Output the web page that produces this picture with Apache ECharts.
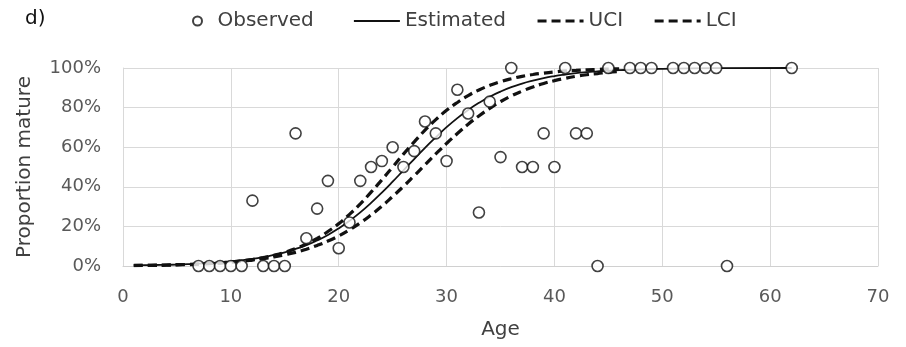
<!DOCTYPE html>
<html>
<head>
<meta charset="utf-8">
<script src="https://cdn.jsdelivr.net/npm/echarts@6/dist/echarts.min.js"></script>
<style>
html,body{margin:0;padding:0;background:#fff;}
#chart{width:906px;height:347px;}
</style>
</head>
<body>
<div id="chart"></div>
<script>
// Observed points (age, % mature)
var obsAge = [7,8,9,10,11,12,13,14,15,16,17,18,19,20,21,22,23,24,25,26,27,28,29,30,31,32,33,34,35,36,37,38,39,40,41,42,43,44,45,47,48,49,51,52,53,54,55,56,62];
var obsPct = [0,0,0,0,0,33,0,0,0,67,14,29,43,9,22,43,50,53,60,50,58,73,67,53,89,77,27,83,55,100,50,50,67,50,100,67,67,0,100,100,100,100,100,100,100,100,100,0,100];

// Estimated ogive (solid), ages 1..50 then 55, 62
var estAge = [1,2,3,4,5,6,7,8,9,10,11,12,13,14,15,16,17,18,19,20,21,22,23,24,25,26,27,28,29,30,31,32,33,34,35,36,37,38,39,40,41,42,43,44,45,46,47,48,49,50,55,62];
var estPct = [0.3,0.4,0.5,0.6,0.7,0.9,1.2,1.5,1.8,2.3,2.9,3.6,4.5,5.6,6.9,8.6,10.5,12.9,15.7,19.0,22.8,27.1,31.9,37.1,42.6,48.3,54.0,59.7,65.0,70.1,74.7,78.8,82.4,85.5,88.1,90.3,92.1,93.6,94.9,95.9,96.7,97.4,97.9,98.3,98.7,98.9,99.1,99.3,99.5,99.6,99.9,100];

// Confidence limits (dashed), ages 1..46
var ciAge = [1,2,3,4,5,6,7,8,9,10,11,12,13,14,15,16,17,18,19,20,21,22,23,24,25,26,27,28,29,30,31,32,33,34,35,36,37,38,39,40,41,42,43,44,45,46];
var uciPct = [0.2,0.3,0.3,0.4,0.6,0.7,0.9,1.2,1.5,2.0,2.6,3.3,4.2,5.4,6.9,8.8,11.1,13.9,17.4,21.4,26.1,31.4,37.3,43.5,50.0,56.5,62.7,68.6,73.9,78.6,82.6,86.1,88.9,91.2,93.1,94.6,95.8,96.7,97.4,98.0,98.5,98.8,99.1,99.3,99.5,99.6];
var lciPct = [0.3,0.3,0.4,0.5,0.7,0.8,1.0,1.3,1.6,2.0,2.4,3.0,3.7,4.6,5.7,6.9,8.5,10.4,12.6,15.2,18.3,21.8,25.8,30.2,35.1,40.2,45.6,51.1,56.6,61.9,66.9,71.6,75.8,79.6,83.0,85.9,88.3,90.4,92.2,93.6,94.8,95.8,96.6,97.2,97.8,98.2];

var xTicks = {min:0, max:70, interval:10};
var yTicks = {min:0, max:100, interval:20};

function zip(a, b){ return a.map(function(v,i){ return [v, b[i]]; }); }

var FONT = 'DejaVu Sans';
var DASH = [9,5];
var chart = echarts.init(document.getElementById('chart'), null, {renderer:'canvas'});
chart.setOption({
  animation:false,
  backgroundColor:'#ffffff',
  textStyle:{fontFamily:FONT},
  title:{text:'d)', left:20, top:4, textStyle:{fontFamily:FONT, fontSize:20, fontWeight:'normal', color:'#111'}},
  legend:[{
    data:['Observed'], left:187, top:6, itemWidth:30, itemHeight:9, itemGap:30,
    textStyle:{fontFamily:FONT, fontSize:20, color:'#404040'}
  },{
    data:[
      {name:'Estimated', icon:'line', itemStyle:{color:'#111', borderColor:'#111', borderWidth:1.8, borderType:'solid'}},
      {name:'UCI', icon:'line', itemStyle:{color:'#111', borderColor:'#111', borderWidth:3.2, borderType:DASH}},
      {name:'LCI', icon:'line', itemStyle:{color:'#111', borderColor:'#111', borderWidth:3.2, borderType:DASH}}
    ],
    left:348, top:6, itemWidth:46, itemHeight:12, itemGap:30,
    textStyle:{fontFamily:FONT, fontSize:20, color:'#404040'}
  }],
  grid:{left:123, right:28, top:68, bottom:81, containLabel:false},
  xAxis:{
    type:'value', min:xTicks.min, max:xTicks.max, interval:xTicks.interval,
    name:'Age', nameLocation:'middle', nameGap:54,
    nameTextStyle:{fontFamily:FONT, fontSize:20, color:'#404040'},
    axisLine:{show:true, lineStyle:{color:'#d0d0d0', width:1}},
    axisTick:{show:false},
    axisLabel:{fontFamily:FONT, fontSize:18, color:'#595959', margin:22},
    splitLine:{show:true, lineStyle:{color:'#d9d9d9', width:1}}
  },
  yAxis:{
    type:'value', min:yTicks.min, max:yTicks.max, interval:yTicks.interval,
    name:'Proportion mature', nameLocation:'middle', nameGap:88,
    nameTextStyle:{fontFamily:FONT, fontSize:20, color:'#404040'},
    axisLine:{show:true, lineStyle:{color:'#d9d9d9', width:1}},
    axisTick:{show:false},
    axisLabel:{fontFamily:FONT, fontSize:18, color:'#595959', margin:22, formatter:'{value}%'},
    splitLine:{show:true, lineStyle:{color:'#d9d9d9', width:1}}
  },
  series:[
    {
      name:'Observed', type:'scatter', data:zip(obsAge, obsPct), z:10,
      symbol:'circle', symbolSize:11,
      itemStyle:{color:'#ffffff', borderColor:'#111', borderWidth:1.6}
    },
    {
      name:'Estimated', type:'line', data:zip(estAge, estPct), smooth:true, symbol:'none', z:3,
      lineStyle:{color:'#111', width:1.8, type:'solid'}, itemStyle:{color:'#111'}
    },
    {
      name:'UCI', type:'line', data:zip(ciAge, uciPct), smooth:true, symbol:'none', z:4,
      lineStyle:{color:'#111', width:3.2, type:DASH}, itemStyle:{color:'#111'}
    },
    {
      name:'LCI', type:'line', data:zip(ciAge, lciPct), smooth:true, symbol:'none', z:4,
      lineStyle:{color:'#111', width:3.2, type:DASH}, itemStyle:{color:'#111'}
    }
  ]
});
</script>
</body>
</html>
